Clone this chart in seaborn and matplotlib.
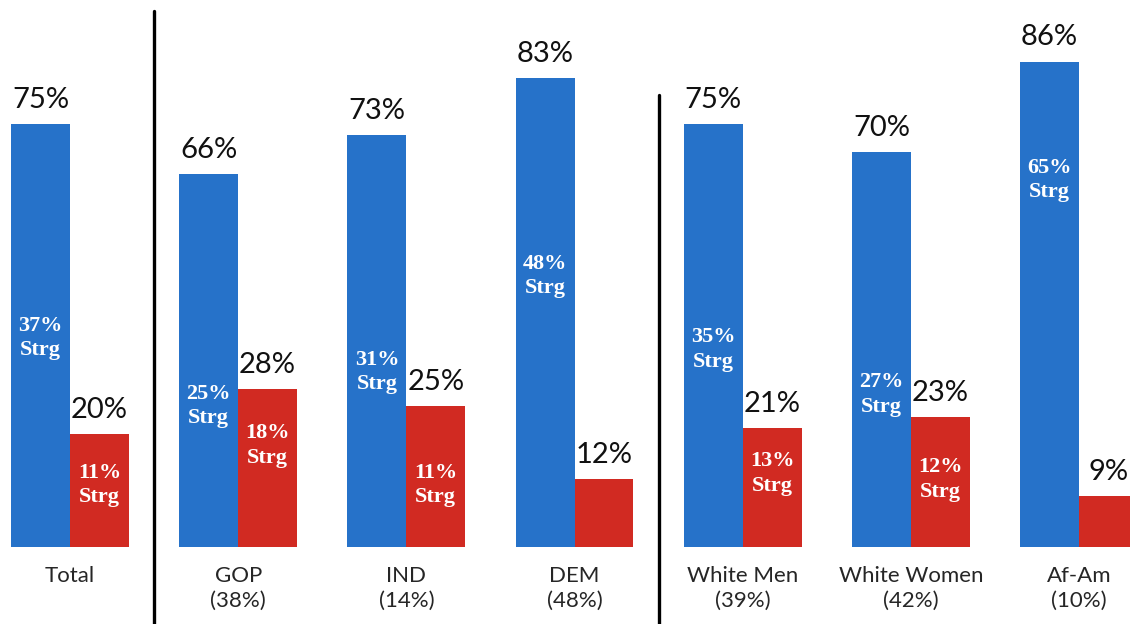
"""
Favor / oppose by group, with strong-intensity shares inside the bars.
"""

import matplotlib
matplotlib.use('Agg')
import matplotlib.pyplot as plt
import pandas as pd
import seaborn as sns

groups = ['Total', 'GOP\n(38%)', 'IND\n(14%)', 'DEM\n(48%)',
          'White Men\n(39%)', 'White Women\n(42%)', 'Af-Am\n(10%)']
favor = [75, 66, 73, 83, 75, 70, 86]
oppose = [20, 28, 25, 12, 21, 23, 9]
favor_strong = [37, 25, 31, 48, 35, 27, 65]
oppose_strong = [11, 18, 11, None, 13, 12, None]
dividers = [0.5, 3.5]
divider_tops = [95, 80]

BLUE = '#2672c9'
RED = '#d12a22'
SERIF = ['Liberation Serif', 'DejaVu Serif']

sns.set_theme(style='white')
plt.rcParams['font.family'] = ['Lato', 'DejaVu Sans']

df = pd.DataFrame({
    'group': groups * 2,
    'series': ['favor'] * len(groups) + ['oppose'] * len(groups),
    'value': favor + oppose,
})

fig = plt.figure(figsize=(11.3, 6.24), dpi=100)
ax = fig.add_axes([0, 77 / 624, 1, 547 / 624])

sns.barplot(data=df, x='group', y='value', hue='series',
            palette={'favor': BLUE, 'oppose': RED}, width=0.7,
            saturation=1, legend=False, linewidth=0, edgecolor='none', ax=ax)

ax.set_xlim(-0.416, 6.303)
ax.set_ylim(0, 96.9)
ax.set_xlabel('')
ax.set_ylabel('')
ax.set_yticks([])
ax.tick_params(axis='x', length=0, pad=14, labelsize=16)
for lbl in ax.get_xticklabels():
    lbl.set_linespacing(1.25)
sns.despine(ax=ax, left=True, bottom=True)

off = 0.175
for i in range(len(groups)):
    ax.annotate(f'{favor[i]}%', (i - off, favor[i]), xytext=(0, 8),
                textcoords='offset points', ha='center', va='bottom',
                fontsize=21, color='#111111')
    ax.annotate(f'{oppose[i]}%', (i + off, oppose[i]), xytext=(0, 8),
                textcoords='offset points', ha='center', va='bottom',
                fontsize=21, color='#111111', annotation_clip=False)
    ax.text(i - off, favor_strong[i], f'{favor_strong[i]}%\nStrg',
            ha='center', va='center', color='white', fontsize=16,
            fontweight='bold', family=SERIF, linespacing=1.3)
    if oppose_strong[i] is not None:
        ax.text(i + off, oppose_strong[i], f'{oppose_strong[i]}%\nStrg',
                ha='center', va='center', color='white', fontsize=16,
                fontweight='bold', family=SERIF, linespacing=1.3)

for x, top in zip(dividers, divider_tops):
    ax.plot([x, x], [-14, top], color='black', lw=2.4, clip_on=False)

fig.savefig('out.png', dpi=100, facecolor='white')
